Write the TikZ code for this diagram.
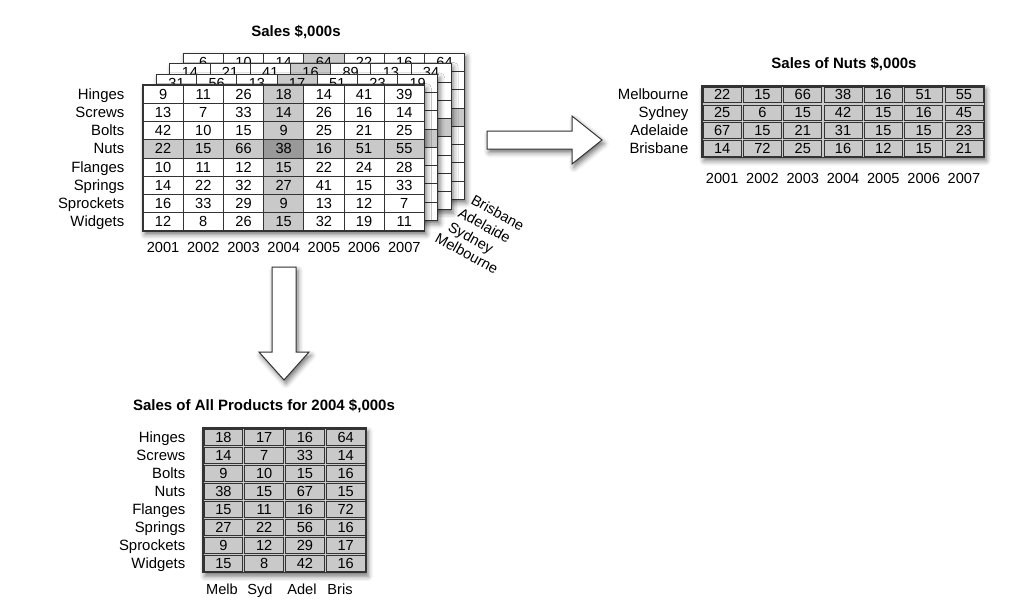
\documentclass[tikz,border=0pt]{standalone}
\usepackage{fontspec}
\setmainfont{Liberation Sans}
\usetikzlibrary{shadows.blur}
\definecolor{cellgray}{gray}{0.79}
\definecolor{darkcell}{gray}{0.6}
\definecolor{linecol}{gray}{0.2}
\tikzset{
  num/.style={anchor=base, inner sep=0pt, font=\fontsize{14.6}{16}\selectfont},
  lbl/.style={anchor=base east, inner sep=0pt, font=\fontsize{14.9}{16}\selectfont},
  city/.style={anchor=base west, inner sep=0pt, rotate=-29, font=\fontsize{14.6}{16}\selectfont},
  ttl/.style={anchor=base, inner sep=0pt, font=\fontsize{15}{17}\selectfont\bfseries},
  shad/.style={blur shadow={shadow xshift=2pt, shadow yshift=-3.5pt, shadow blur radius=5pt, shadow opacity=55}},
  gridl/.style={draw=linecol, line width=0.9pt},
  frame/.style={draw=linecol, line width=1.1pt},
  cellbox/.style={draw=linecol, line width=0.8pt},
  blockarrow/.style={fill=white, draw=linecol, line width=1pt, line join=miter},
}
\newcommand\cw{40.2}
\newcommand\rh{18.25}
\newcommand\sheetbase[2]{%
  \fill[white,shad] (#1,#2) rectangle ++({7*\cw},{8*\rh});
  \fill[cellgray] ({#1+3*\cw},#2) rectangle ++(\cw,{8*\rh});
  \fill[cellgray] (#1,{#2+3*\rh}) rectangle ++({7*\cw},\rh);
  \fill[darkcell] ({#1+3*\cw},{#2+3*\rh}) rectangle ++(\cw,\rh);
  \foreach \i in {1,...,6} \draw[gridl] ({#1+\i*\cw},#2) -- ++(0,{8*\rh});
  \foreach \j in {1,...,7} \draw[gridl] (#1,{#2+\j*\rh}) -- ++({7*\cw},0);
  \draw[frame] (#1,#2) rectangle ++({7*\cw},{8*\rh});
}
\begin{document}
\begin{tikzpicture}[x=1pt,y=-1pt]
\useasboundingbox (0,0) rectangle (1024,614);

% ---------- cube of sheets ----------
\node[ttl] (title) at (296,36.5) {Sales \$,000s};

% Brisbane
\sheetbase{183.2}{53.2}
\foreach \v [count=\c from 0] in {6,10,14,64,22,16,64}
  \node[num] (bris-\c) at ({183.2+(\c+0.5)*\cw},{53.2+0.5*\rh+5}) {\v};
% Adelaide
\sheetbase{169.8}{63.8}
\foreach \v [count=\c from 0] in {14,21,41,16,89,13,34}
  \node[num] (adel-\c) at ({169.8+(\c+0.5)*\cw},{63.8+0.5*\rh+5}) {\v};
% Sydney
\sheetbase{156.4}{74.4}
\foreach \v [count=\c from 0] in {31,56,13,17,51,23,19}
  \node[num] (syd-\c) at ({156.4+(\c+0.5)*\cw},{74.4+0.5*\rh+5}) {\v};
% Melbourne (front)
\sheetbase{143}{85}
\foreach \row [count=\r from 0] in {{9,11,26,18,14,41,39},{13,7,33,14,26,16,14},{42,10,15,9,25,21,25},{22,15,66,38,16,51,55},{10,11,12,15,22,24,28},{14,22,32,27,41,15,33},{16,33,29,9,13,12,7},{12,8,26,15,32,19,11}}
  {\foreach \v [count=\c from 0] in \row
    \node[num] (m-\r-\c) at ({143+(\c+0.5)*\cw},{85+(\r+0.5)*\rh+5}) {\v};}
\foreach \t [count=\r from 0] in {Hinges,Screws,Bolts,Nuts,Flanges,Springs,Sprockets,Widgets}
  \node[lbl] (fl-\r) at (124.5,{85+(\r+0.5)*\rh+5}) {\t};
\foreach \y [count=\c from 0] in {2001,2002,2003,2004,2005,2006,2007}
  \node[num] (fy-\c) at ({143+(\c+0.5)*\cw},252) {\y};

\node[city] (cbris) at (470,203) {Brisbane};
\node[city] (cadel) at (457,216) {Adelaide};
\node[city] (csyd) at (447,230) {Sydney};
\node[city] (cmelb) at (434,241) {Melbourne};

% ---------- block arrows ----------
\draw[blockarrow,shad] (487,131) -- (572,131) -- (572,116) -- (602,140) -- (572,164) -- (572,149) -- (487,149) -- cycle;
\draw[blockarrow,shad] (272,267) -- (296,267) -- (296,352) -- (309,352) -- (284,380) -- (259,352) -- (272,352) -- cycle;

% ---------- Nuts table ----------
\node[ttl] (ntitle) at (844,68) {Sales of Nuts \$,000s};
\fill[cellgray,shad] (702,86) rectangle ++({7*40.3},{4*17.8});
\foreach \r in {0,...,3}
  \foreach \c in {0,...,6}
    \draw[cellbox] ({702+\c*40.3+1.1},{86+\r*17.8+1.1}) rectangle ++({40.3-2.2},{17.8-2.2});
\draw[frame] (702,86) rectangle ++({7*40.3},{4*17.8});
\foreach \row [count=\r from 0] in {{22,15,66,38,16,51,55},{25,6,15,42,15,16,45},{67,15,21,31,15,15,23},{14,72,25,16,12,15,21}}
  {\foreach \v [count=\c from 0] in \row
    \node[num] (n-\r-\c) at ({702+(\c+0.5)*40.3},{86+(\r+0.5)*17.8+5}) {\v};}
\foreach \t [count=\r from 0] in {Melbourne,Sydney,Adelaide,Brisbane}
  \node[lbl] (nl-\r) at (688.5,{86+(\r+0.5)*17.8+5}) {\t};
\foreach \y [count=\c from 0] in {2001,2002,2003,2004,2005,2006,2007}
  \node[num] (ny-\c) at ({702+(\c+0.5)*40.3},183) {\y};

% ---------- Products table ----------
\node[ttl] (ptitle) at (264,410) {Sales of All Products for 2004 \$,000s};
\fill[cellgray,shad] (203,428) rectangle ++({4*40.75},{8*18.1});
\foreach \r in {0,...,7}
  \foreach \c in {0,...,3}
    \draw[cellbox] ({203+\c*40.75+1.1},{428+\r*18.1+1.1}) rectangle ++({40.75-2.2},{18.1-2.2});
\draw[frame] (203,428) rectangle ++({4*40.75},{8*18.1});
\foreach \row [count=\r from 0] in {{18,17,16,64},{14,7,33,14},{9,10,15,16},{38,15,67,15},{15,11,16,72},{27,22,56,16},{9,12,29,17},{15,8,42,16}}
  {\foreach \v [count=\c from 0] in \row
    \node[num] (p-\r-\c) at ({203+(\c+0.5)*40.75},{428+(\r+0.5)*18.1+5}) {\v};}
\foreach \t [count=\r from 0] in {Hinges,Screws,Bolts,Nuts,Flanges,Springs,Sprockets,Widgets}
  \node[lbl] (pl-\r) at (185.5,{428+(\r+0.5)*18.1+5}) {\t};
\node[num] (pc-0) at (222,594) {Melb};
\node[num] (pc-1) at (260,594) {Syd};
\node[num] (pc-2) at (302,594) {Adel};
\node[num] (pc-3) at (340,594) {Bris};
\end{tikzpicture}
\end{document}
